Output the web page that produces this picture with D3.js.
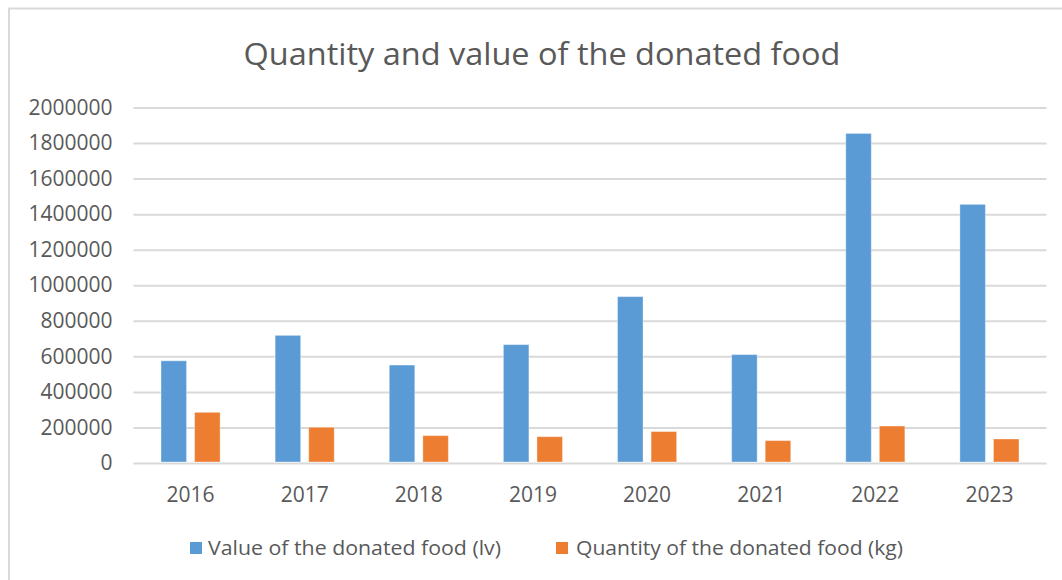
<!DOCTYPE html>
<html>
<head>
<meta charset="utf-8">
<script src="https://cdn.jsdelivr.net/npm/d3@7"></script>
<style>
  html, body { margin: 0; padding: 0; background: #fff; }
  svg { display: block; font-family: "Open Sans", Lato, sans-serif; }
</style>
</head>
<body>
<div id="chart"></div>
<script>
// data
const years = ['2016', '2017', '2018', '2019', '2020', '2021', '2022', '2023'];
const seriesNames = ['Value of the donated food (lv)', 'Quantity of the donated food (kg)'];
const valueLv = [575000, 718000, 551000, 666000, 936000, 610000, 1854000, 1455000];
const quantityKg = [285000, 201000, 154000, 148000, 177000, 126000, 208000, 135000];
const yTicks = [0, 200000, 400000, 600000, 800000, 1000000, 1200000, 1400000, 1600000, 1800000, 2000000];
const colors = ['#5B9BD5', '#ED7D31'];

const width = 1062;
const height = 580;
const marginLeft = 133.5;
const marginRight = 15.5;
const plotTop = 107.5;
const plotBottom = 463;
const fontFamily = '"Open Sans", Lato, sans-serif';
const textColor = '#595959';
const gridColor = '#D9D9D9';

const rows = years.map((y, i) => ({ year: y, values: [valueLv[i], quantityKg[i]] }));

const $svg = d3.select('#chart').append('svg')
  .attr('width', width)
  .attr('height', height);

// outer chart border (runs off the right/bottom of the crop)
$svg.append('rect')
  .attr('x', 9).attr('y', 8.5)
  .attr('width', 1100).attr('height', 600)
  .attr('fill', '#fff')
  .attr('stroke', gridColor)
  .attr('stroke-width', 2);

// scales
const x0 = d3.scaleBand()
  .domain(years)
  .range([marginLeft, width - marginRight]);

const x1 = d3.scaleBand()
  .domain([0, 1])
  .range([0, x0.bandwidth()])
  .paddingInner(0.24)
  .paddingOuter(0.82);

const y = d3.scaleLinear()
  .domain([0, 2000000])
  .range([plotBottom, plotTop]);

// gridlines + y labels
const yAxis = $svg.append('g')
  .attr('transform', `translate(${marginLeft},0)`)
  .call(d3.axisLeft(y)
    .tickValues(yTicks)
    .tickFormat(d3.format('d'))
    .tickSize(-(width - marginRight - marginLeft))
    .tickPadding(21));
yAxis.attr('font-family', fontFamily);
yAxis.select('.domain').remove();
yAxis.selectAll('.tick line')
  .attr('stroke', gridColor)
  .attr('stroke-width', 2);
yAxis.selectAll('.tick text')
  .attr('font-size', 21)
  .attr('fill', textColor);

// bars
const groups = $svg.append('g')
  .selectAll('g')
  .data(rows)
  .join('g')
  .attr('transform', d => `translate(${x0(d.year)},0)`);

groups.selectAll('rect')
  .data(d => d.values.map((v, i) => ({ i, v })))
  .join('rect')
  .attr('x', d => x1(d.i))
  .attr('width', x1.bandwidth())
  .attr('y', d => y(d.v))
  .attr('height', d => y(0) - y(d.v) - 1)
  .attr('fill', d => colors[d.i])
  .attr('stroke', '#fff')
  .attr('stroke-opacity', 0.35)
  .attr('stroke-width', 1);

// x labels
const xAxis = $svg.append('g')
  .attr('transform', `translate(0,${plotBottom})`)
  .call(d3.axisBottom(x0).tickSize(0).tickPadding(24));
xAxis.attr('font-family', fontFamily);
xAxis.select('.domain').remove();
xAxis.selectAll('.tick text')
  .attr('font-size', 21)
  .attr('fill', textColor);

// title
$svg.append('text')
  .attr('x', 542)
  .attr('y', 65)
  .attr('text-anchor', 'middle')
  .attr('font-size', 31)
  .attr('fill', textColor)
  .attr('textLength', 597)
  .attr('lengthAdjust', 'spacingAndGlyphs')
  .text('Quantity and value of the donated food');

// legend
const legendItems = [
  { x: 190, tx: 208, len: 293 },
  { x: 556, tx: 576, len: 327 }
];
const legend = $svg.append('g')
  .selectAll('g')
  .data(seriesNames)
  .join('g');

legend.append('rect')
  .attr('x', (d, i) => legendItems[i].x)
  .attr('y', 542)
  .attr('width', 12)
  .attr('height', 12)
  .attr('fill', (d, i) => colors[i]);

legend.append('text')
  .attr('x', (d, i) => legendItems[i].tx)
  .attr('y', 555)
  .attr('font-size', 20)
  .attr('fill', textColor)
  .attr('textLength', (d, i) => legendItems[i].len)
  .attr('lengthAdjust', 'spacingAndGlyphs')
  .text(d => d);
</script>
</body>
</html>
